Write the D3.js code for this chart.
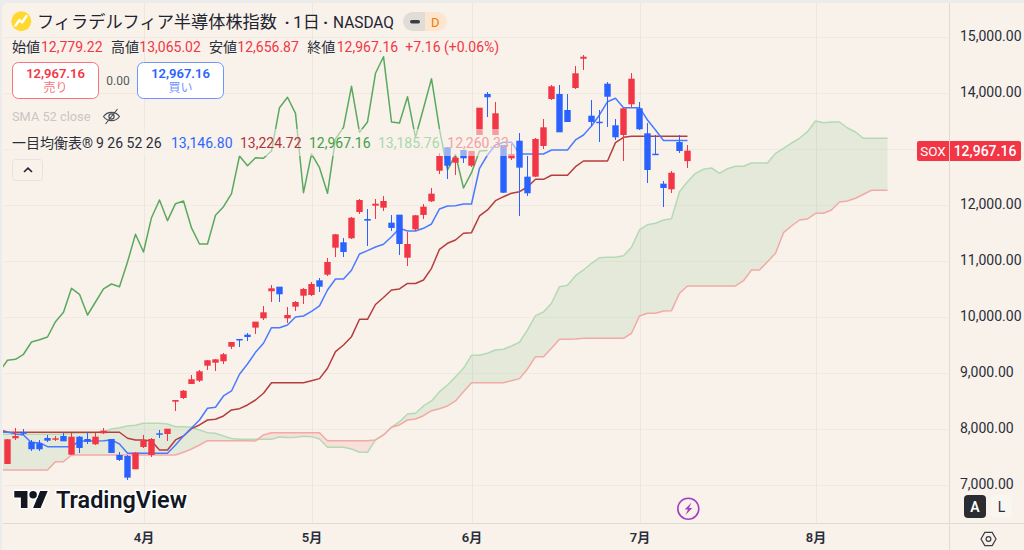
<!DOCTYPE html>
<html lang="ja">
<head>
<meta charset="utf-8">
<title>フィラデルフィア半導体株指数</title>
<script src="https://cdn.jsdelivr.net/npm/d3@7"></script>
<style>
  html, body { margin: 0; padding: 0; background: #ececec; overflow: hidden; }
  svg { display: block; }
  text { font-family: Roboto, "Noto Sans CJK JP", sans-serif; }
</style>
</head>
<body>
<svg id="chart" width="1024" height="550"></svg>
<script>
// Daily candles, one entry per trading day
const opens = [7375,7834,7941,7773,7745,7839,7821,7875,7541,7862,
  7821,7727,7923,7821,7536,7518,7281,7679,7536,7923,
  7910,8487,8553,8803,8862,9129,9183,9208,9468,9606,
  9683,9808,9975,10457,10539,9975,10182,10378,10391,10653,
  10753,11235,11331,11403,11872,11747,11984,11949,11681,11824,
  11056,11563,11819,12063,12609,13027,12752,12978,12698,13246,
  13978,13246,13068,12830,13144,12502,12502,13050,13888,13978,
  13692,14085,14607,13590,13483,14161,13419,13246,13794,13722,
  13276,12912,12377,12277,13121,12779.22];
const highs = [7816,8012,7995,7804,7804,7893,7875,7923,7923,7875,
  7952,7923,8023,7821,7595,7536,7595,7893,7845,7982,
  8005,8517,8696,8963,9053,9226,9254,9356,9552,9606,
  9718,9915,10200,10564,10539,10182,10279,10510,10628,10699,
  11056,11474,11408,11777,12109,11931,12109,12152,11819,11824,
  11520,11813,12009,12306,12919,13027,12884,12978,12960,13733,
  14008,13829,13068,13085,13276,12871,13198,13526,14138,14138,
  13978,14477,14668,13871,13692,14197,13526,13722,14347,13840,
  13460,13246,12425,12609,13251,13065.02];
const lows = [7375,7804,7888,7613,7613,7768,7780,7780,7536,7577,
  7732,7709,7905,7572,7423,7090,7281,7655,7506,7834,
  7791,8326,8541,8803,8844,9053,9035,9160,9433,9468,
  9575,9700,9940,10272,10261,9897,10111,10236,10378,10439,
  10725,11074,11074,11396,11831,11271,11752,11895,11538,11105,
  10908,11538,11752,12056,12550,12461,12532,12752,12680,13241,
  13573,13241,12216,12800,11806,12163,12491,13002,13871,13294,
  13478,14072,14406,13407,13126,13383,13157,12787,13751,13335,
  12384,12895,11966,12216,12919,12656.87];
const closes = [7816,7875,7923,7638,7638,7791,7834,7780,7862,7661,
  7773,7862,7970,7572,7447,7131,7577,7791,7821,7910,
  8005,8517,8683,8887,9029,9226,9243,9333,9552,9593,
  9641,9915,10082,10510,10403,10034,10266,10498,10587,10539,
  10980,11474,11158,11770,12086,11717,12020,12068,11587,11301,
  11301,11813,11967,12199,12871,12698,12841,12830,12960,13733,
  13919,13633,12216,12907,12663,12206,13175,13383,14115,13294,
  13478,14347,14643,13478,13460,13929,13205,13722,14251,13348,
  12621,12895,12300,12573,12960,12967.16];

// Ichimoku lines; each list opens with the bar just off the left edge
const conversionLine = [7941,
  7946,7911,7893,7755,7755,7684,7684,7684,7684,7786,
  7786,7786,7791,7804,7732,7566,7566,7566,7566,7566,
  7566,7714,7875,8018,8160,8369,8387,8589,8678,8976,
  9160,9368,9529,9807,9807,9856,9998,10016,10100,10195,
  10480,10677,10677,10832,11123,11182,11247,11296,11431,11581,
  11533,11533,11581,11658,11926,11979,11985,12015,12015,12652,
  12889,13068,13116,13116,12907,12907,12907,12907,12978,12978,
  12978,13157,13246,13407,13603,13840,13901,13733,13733,13733,
  13514,13335,13146.8,13146.8,13146.8,13146.8];
const baseLine = [7982,
  7946,7941,7941,7941,7941,7941,7941,7941,7941,7941,
  7941,7941,7941,7941,7941,7834,7804,7804,7786,7625,
  7625,7804,7875,8005,8071,8160,8173,8232,8339,8362,
  8428,8517,8637,8826,8826,8826,8826,8826,8862,8898,
  9083,9379,9499,9647,9957,9957,10221,10346,10480,10498,
  10596,10596,10659,10867,11206,11313,11372,11492,11503,11801,
  11908,12074,12145,12206,12234,12318,12455,12455,12527,12527,
  12527,12680,12782,12782,12782,12782,13109,13205,13224.72,13224.72,
  13224.72,13224.72,13224.72,13224.72,13224.72,13224.72];
const leadingSpanA = [7905,
  7905,7905,7905,7905,7905,7905,7905,7911,7920,7929,
  7929,7934,7946,8000,8023,8053,8066,8102,8102,8102,
  8089,8041,8041,8030,7982,7934,7923,7875,7830,7816,
  7816,7816,7816,7816,7857,7848,7852,7870,7863,7822,
  7673,7673,7673,7643,7584,7584,7804,7893,8030,8130,
  8268,8280,8410,8500,8665,8785,8933,9083,9315,9315,
  9351,9410,9422,9481,9547,9767,10022,10088,10243,10539,
  10564,10735,10837,10957,11056,11064,11064,11092,11242,11551,
  11645,11670,11729,11753,12234,12413,12562,12634,12657,12562,
  12645,12688,12688,12746,12746,12746,12919,13009,13103,13187,
  13305,13496,13466,13478,13478,13371,13300,13185.76,13185.76,13185.76,13185.76];
const leadingSpanB = [7268,
  7268,7268,7268,7268,7268,7268,7417,7417,7536,7536,
  7536,7536,7536,7536,7536,7536,7536,7536,7536,7536,
  7536,7536,7584,7643,7714,7791,7791,7791,7791,7791,
  7791,7786,7893,7934,7934,7934,7934,7934,7934,7934,
  7791,7791,7791,7791,7791,7791,7804,7893,8030,8071,
  8160,8178,8237,8326,8362,8410,8500,8665,8826,8826,
  8826,8826,8826,8862,8898,9071,9290,9290,9440,9600,
  9600,9606,9618,9618,9618,9618,9618,9618,9708,10016,
  10064,10064,10105,10111,10421,10552,10552,10552,10552,10552,
  10552,10552,10646,10837,10837,10985,11135,11503,11622,11729,
  11747,11849,11849,11908,12050,12068,12117,12188,12260.33,12260.33,12260.33];

// The lagging span is the close series drawn 25 bars back
const laggingShift = 25;

const priceTicks = [7000,8000,9000,10000,11000,12000,13000,14000,15000];
// 13,000 sits under the last-price tag, so only its grid line is drawn
const priceLabels = [7000,8000,9000,10000,11000,12000,14000,15000];
const monthBars = [17,38,58,79,101];
const monthLabels = ["4月","5月","6月","7月","8月"];

const ohlcLabels = ["始値","高値","安値","終値"];
const ohlcValues = ["12,779.22","13,065.02","12,656.87","12,967.16"];
const ichimokuValues = ["13,146.80","13,224.72","12,967.16","13,185.76","12,260.33"];

const UP = "#f23645", DOWN = "#2962ff", BG = "#f8f2eb", INK = "#2a2e39";
const GRID = "#f0eae3", AXIS = "#e0dbd4";
const PLOT = { left: 3, top: 3, right: 949, bottom: 523 };

const x = d3.scaleLinear().domain([0, 85]).range([7.5, 687.5]);
const y = d3.scaleLinear().domain([7000, 15000]).range([485, 36.7]);

const svg = d3.select("#chart");
svg.append("path").attr("fill", BG)
  .attr("d", "M2 550V9a6 6 0 0 1 6-6H1024V550Z");

const defs = svg.append("defs");
defs.append("clipPath").attr("id", "plot").append("rect")
  .attr("x", PLOT.left).attr("y", PLOT.top)
  .attr("width", PLOT.right - PLOT.left).attr("height", PLOT.bottom - PLOT.top);

// Grid
const grid = svg.append("g").attr("shape-rendering", "crispEdges");
grid.selectAll(".h").data(priceTicks).join("line")
  .attr("x1", PLOT.left).attr("x2", PLOT.right)
  .attr("y1", d => Math.round(y(d)) + .5).attr("y2", d => Math.round(y(d)) + .5)
  .attr("stroke", GRID);
grid.selectAll(".v").data(monthBars).join("line")
  .attr("x1", d => Math.round(x(d)) + .5).attr("x2", d => Math.round(x(d)) + .5)
  .attr("y1", PLOT.top).attr("y2", PLOT.bottom)
  .attr("stroke", "#ece6df");

const plot = svg.append("g").attr("clip-path", "url(#plot)");

// Cloud: filled on the side of whichever span is on top
const spanX = (d, i) => x(i - 1);
const spans = leadingSpanA.map((a, i) => ({ a, b: leadingSpanB[i] }));
plot.append("path").datum(spans).attr("fill", "rgba(67,160,71,.1)")
  .attr("d", d3.area().x(spanX).y0(d => y(d.a)).y1(d => y(Math.min(d.a, d.b))));
plot.append("path").datum(spans).attr("fill", "rgba(244,67,54,.1)")
  .attr("d", d3.area().x(spanX).y0(d => y(d.b)).y1(d => y(Math.min(d.a, d.b))));

const line = d3.line().x(spanX).y(d => y(d));
const drawLine = (values, color, width) => plot.append("path").datum(values)
  .attr("fill", "none").attr("stroke", color).attr("stroke-width", width)
  .attr("stroke-linejoin", "round").attr("d", line);

drawLine(leadingSpanA, "#b4dab3", 1.5);
drawLine(leadingSpanB, "#f2aaa6", 1.5);

// Lagging span
const lagging = closes.slice(laggingShift - 1);
drawLine(lagging, "#5aa95e", 1.5);
drawLine(baseLine, "#b53d3d", 1.5);
drawLine(conversionLine, "#4a7bff", 1.5);

// Candles
const bars = opens.map((o, i) => ({ i, o, h: highs[i], l: lows[i], c: closes[i] }));
const candles = plot.append("g")
  .selectAll("g").data(bars).join("g")
  .attr("fill", d => d.c >= d.o ? UP : DOWN);
candles.append("rect").attr("shape-rendering", "crispEdges")
  .attr("x", d => x(d.i) - .5).attr("width", 1)
  .attr("y", d => y(d.h)).attr("height", d => Math.max(1, y(d.l) - y(d.h)));
candles.append("rect")
  .attr("x", d => x(d.i) - 3.2).attr("width", 6.4)
  .attr("y", d => y(Math.max(d.o, d.c)))
  .attr("height", d => Math.max(1.5, Math.abs(y(d.o) - y(d.c))));

// Axes
const yAxis = svg.append("g").attr("transform", `translate(${PLOT.right},0)`)
  .call(d3.axisRight(y).tickValues(priceLabels).tickFormat(d3.format(",.2f")).tickSize(0).tickPadding(11));
yAxis.select(".domain").remove();
yAxis.selectAll("text").attr("font-size", 14).attr("font-family", "Roboto, sans-serif")
  .attr("fill", INK).attr("dy", "0.24em");

const xAxis = svg.append("g").attr("transform", `translate(0,${PLOT.bottom})`)
  .call(d3.axisBottom(x).tickValues(monthBars)
    .tickFormat((d, i) => monthLabels[i]).tickSize(0).tickPadding(10));
xAxis.select(".domain").remove();
xAxis.selectAll("text").attr("font-size", 13).attr("font-weight", 600)
  .attr("font-family", 'Roboto, "Noto Sans CJK JP", sans-serif').attr("fill", INK);

const frame = svg.append("g").attr("stroke", AXIS).attr("shape-rendering", "crispEdges");
frame.append("line").attr("x1", PLOT.right + .5).attr("x2", PLOT.right + .5).attr("y1", PLOT.top).attr("y2", 550);
frame.append("line").attr("x1", PLOT.left).attr("x2", 1024).attr("y1", PLOT.bottom + .5).attr("y2", PLOT.bottom + .5);

// Legend row veil that fades whatever runs under the indicator values
svg.append("rect").attr("x", 10).attr("y", 129).attr("width", 506).attr("height", 27)
  .attr("fill", BG).attr("opacity", .55);

const label = (txt, px, py, size, fill, extra = {}) => {
  const t = svg.append("text").attr("x", px).attr("y", py)
    .attr("font-size", size).attr("fill", fill).text(txt);
  Object.entries(extra).forEach(([k, v]) => t.attr(k, v));
  return t;
};

// Title row
svg.append("circle").attr("cx", 21.3).attr("cy", 21.3).attr("r", 10).attr("fill", "#ffd92f");
svg.append("path").attr("d", "M15.5 25.5l4-5.5 2.5 2.5 4.5-6.5")
  .attr("fill", "none").attr("stroke", "#fff").attr("stroke-width", 2.4)
  .attr("stroke-linejoin", "round").attr("stroke-linecap", "round");
const titleInk = "#1f2430";
label("フィラデルフィア半導体株指数", 37, 28, 17.2, titleInk);
label("·", 287, 28, 17.2, titleInk, { "text-anchor": "middle", "font-weight": 700 });
label("1日", 293, 28, 17.2, titleInk);
label("·", 325.5, 28, 17.2, titleInk, { "text-anchor": "middle", "font-weight": 700 });
label("NASDAQ", 333, 28, 17.2, titleInk, { textLength: 61, lengthAdjust: "spacingAndGlyphs" });
svg.append("path").attr("d", "M425 12h-12.5a9.5 9.5 0 0 0 0 19H425Z").attr("fill", "#e1ddd6");
svg.append("path").attr("d", "M425 12h12.5a9.5 9.5 0 0 1 0 19H425Z").attr("fill", "#fde6cf");
svg.append("rect").attr("x", 410).attr("y", 20).attr("width", 10).attr("height", 3.4).attr("rx", 1.7).attr("fill", "#3a3d47");
label("D", 431, 27, 13, "#f57c00");

// OHLC row
const ohlcX = [[12, 41], [111, 139.3], [209, 237.3], [307.3, 336.7]];
ohlcLabels.forEach((name, i) => {
  label(name, ohlcX[i][0], 52, 14, INK);
  label(ohlcValues[i], ohlcX[i][1], 52, 14, UP);
});
label("+7.16 (+0.06%)", 405.3, 52, 14, UP);

// Buy / sell boxes
const priceBox = (bx, color, soft, word) => {
  svg.append("rect").attr("x", bx).attr("y", 62.5).attr("width", 86).attr("height", 36).attr("rx", 6)
    .attr("fill", "#fff").attr("stroke", soft);
  label(ohlcValues[3], bx + 43, 77.5, 13, color, { "text-anchor": "middle", "font-weight": 600 });
  label(word, bx + 43, 92, 12, soft, { "text-anchor": "middle" });
};
priceBox(12.5, UP, "#f7737e", "売り");
priceBox(137.5, DOWN, "#6f94ff", "買い");
label("0.00", 118, 84.5, 12, "#555963", { "text-anchor": "middle" });

// Hidden SMA row
label("SMA 52 close", 12, 121, 12.8, "#c9c6c1");
const eye = svg.append("g").attr("fill", "none").attr("stroke", "#4a4d57").attr("stroke-width", 1.2);
eye.append("path").attr("d", "M103.5 116.5c4-5.6 12-5.6 16 0c-4 5.6-12 5.6-16 0Z");
eye.append("circle").attr("cx", 111.5).attr("cy", 116.5).attr("r", 2.6);
eye.append("path").attr("d", "M105.5 124l12-15");

// Ichimoku row
label("一目均衡表®", 12, 148, 14, INK);
label("9 26 52 26", 96, 148, 14, INK);
const ichimokuX = [171, 240, 309, 378, 447.3];
const ichimokuColors = ["#2f66ff", "#b3333b", "#43a047", "#a9d8ab", "#f0a3a0"];
ichimokuValues.forEach((v, i) => label(v, ichimokuX[i], 148, 14, ichimokuColors[i]));

// Collapse button
svg.append("rect").attr("x", 12.5).attr("y", 159.5).attr("width", 30).attr("height", 21).attr("rx", 3)
  .attr("fill", BG).attr("stroke", "#e8e3dc");
svg.append("path").attr("d", "M24 172l4-3.8 4 3.8").attr("fill", "none").attr("stroke", "#1f2430").attr("stroke-width", 1.6);

// Last price tag
svg.append("rect").attr("x", 917).attr("y", 141).attr("width", 104).attr("height", 20).attr("rx", 2).attr("fill", UP);
svg.append("line").attr("x1", PLOT.right + .5).attr("x2", PLOT.right + .5).attr("y1", 141).attr("y2", 161)
  .attr("stroke", "#fff").attr("stroke-opacity", .7);
label("SOX", 933, 156, 13.5, "#fff", { "text-anchor": "middle" });
label(ohlcValues[3], 985, 156, 14, "#fff", { "text-anchor": "middle", "font-weight": 500 });

// Watermark
const mark = svg.append("g").attr("transform", "translate(14.3,487.2) scale(.94)");
mark.append("path").attr("d", "M14 22H7V11H0V4h14v18zM28 22h-8l7.5-18h8L28 22z").attr("fill", "#131722")
  .attr("stroke", "#fff").attr("stroke-width", 3).attr("paint-order", "stroke");
mark.append("circle").attr("cx", 20).attr("cy", 8).attr("r", 4).attr("fill", "#131722")
  .attr("stroke", "#fff").attr("stroke-width", 3).attr("paint-order", "stroke");
label("TradingView", 56, 508, 23.4, "#131722", {
  "font-family": "Inter, sans-serif", "font-weight": 600,
  stroke: "#fff", "stroke-width": 3, "paint-order": "stroke", "stroke-linejoin": "round"
});

// Event marker
svg.append("circle").attr("cx", 688.3).attr("cy", 508.7).attr("r", 10.5)
  .attr("fill", BG).attr("stroke", "#a53fc4").attr("stroke-width", 1.6);
svg.append("path").attr("d", "M691.5 502.5l-6.8 7h3.3l-2.5 5.5 6.8-7h-3.3Z").attr("fill", "#a53fc4");

// Scale mode buttons
svg.append("rect").attr("x", 964).attr("y", 495).attr("width", 22).attr("height", 23).attr("rx", 4).attr("fill", "#2a2c30");
label("A", 975, 511.5, 14, "#fff", { "text-anchor": "middle", "font-weight": 600 });
svg.append("rect").attr("x", 991).attr("y", 495).attr("width", 21).attr("height", 23).attr("rx", 4).attr("fill", "#f9f5ef");
label("L", 1001.5, 511.5, 14, INK, { "text-anchor": "middle" });

// Settings hexagon
const gear = svg.append("g").attr("fill", "none").attr("stroke", "#3a3d47").attr("stroke-width", 1.2);
gear.append("path").attr("d", "M981 539l3.8-6.6h7.4l3.8 6.6-3.8 6.6h-7.4Z");
gear.append("circle").attr("cx", 988.5).attr("cy", 539).attr("r", 2.4);
</script>
</body>
</html>
